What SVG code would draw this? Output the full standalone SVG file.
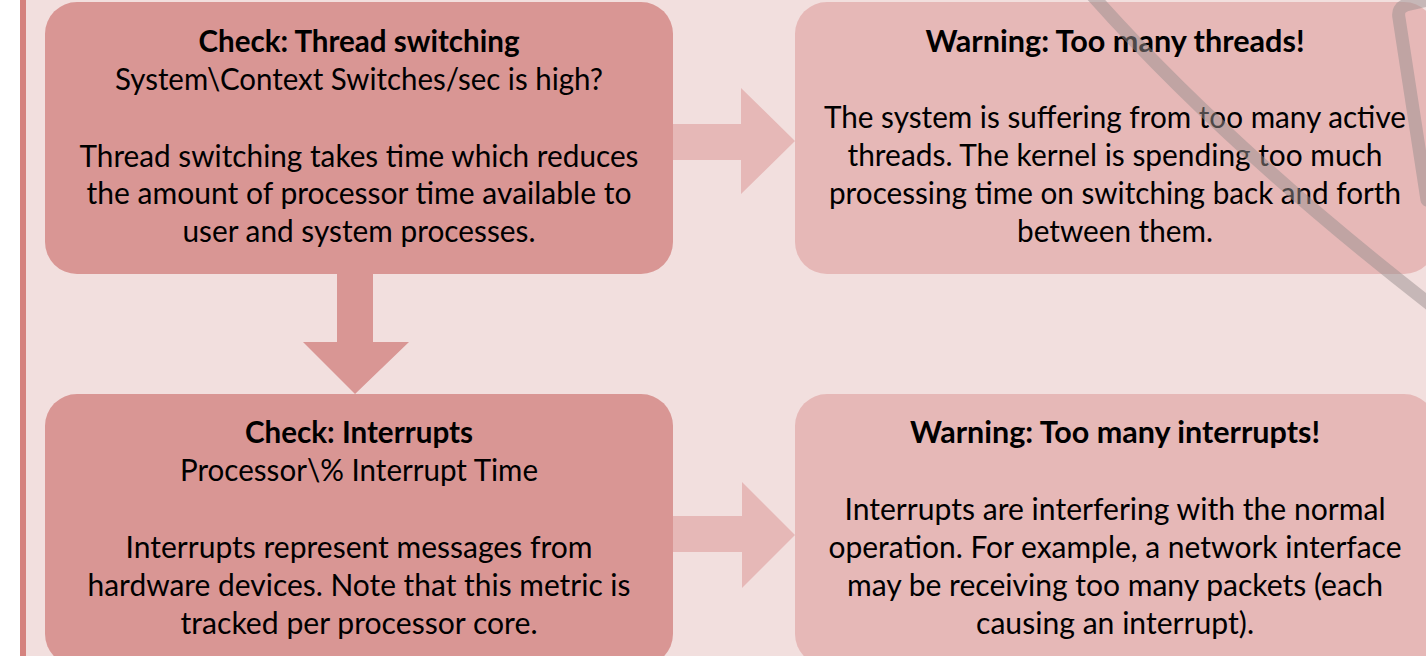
<svg xmlns="http://www.w3.org/2000/svg" width="1426" height="656" viewBox="0 0 1426 656">
<style>
.bg{fill:#f2dfde}
.dark{fill:#d99694}
.light{fill:#e6b8b7}
text{font-family:Lato,"Liberation Sans",sans-serif;font-size:31px;fill:#000;text-anchor:middle}
.t{font-weight:bold}
.deco{fill:none;stroke:#9a9090;stroke-opacity:0.5;stroke-width:13;stroke-linecap:round;stroke-linejoin:round}
</style>
<rect x="0" y="0" width="1426" height="656" fill="#ffffff"/>
<rect x="26" y="0" width="1400" height="656" class="bg"/>
<rect x="20" y="0" width="6" height="656" fill="#d5827e"/>

<g id="connectors">
<polygon class="light" points="673,124 741,124 741,88 795,141 741,194 741,160 673,160"/>
<polygon class="dark" points="337,272 373,272 373,342 409,342 355,394 303,342 337,342"/>
<polygon class="light" points="673,516 742,516 742,482 795,535 742,588 742,552 673,552"/>
</g>

<g id="check-thread-switching">
<rect x="45" y="2" width="628" height="272" rx="32" ry="32" class="dark"/>
<text x="359" y="52" class="t" textLength="321" lengthAdjust="spacingAndGlyphs">Check: Thread switching</text>
<text x="359" y="90" textLength="488" lengthAdjust="spacingAndGlyphs">System\Context Switches/sec is high?</text>
<text x="359" y="167" textLength="559" lengthAdjust="spacingAndGlyphs">Thread switching takes time which reduces</text>
<text x="359" y="204" textLength="545" lengthAdjust="spacingAndGlyphs">the amount of processor time available to</text>
<text x="359" y="242" textLength="353" lengthAdjust="spacingAndGlyphs">user and system processes.</text>
</g>

<g id="warning-threads">
<rect x="795" y="2" width="641" height="272" rx="32" ry="32" class="light"/>
<text x="1115" y="52" class="t" textLength="379" lengthAdjust="spacingAndGlyphs">Warning: Too many threads!</text>
<text x="1115" y="128" textLength="582" lengthAdjust="spacingAndGlyphs">The system is suffering from too many active</text>
<text x="1115" y="166" textLength="535" lengthAdjust="spacingAndGlyphs">threads. The kernel is spending too much</text>
<text x="1115" y="204" textLength="572" lengthAdjust="spacingAndGlyphs">processing time on switching back and forth</text>
<text x="1115" y="242" textLength="196" lengthAdjust="spacingAndGlyphs">between them.</text>
</g>

<g id="check-interrupts">
<rect x="45" y="394" width="628" height="272" rx="32" ry="32" class="dark"/>
<text x="359" y="443" class="t" textLength="228" lengthAdjust="spacingAndGlyphs">Check: Interrupts</text>
<text x="359" y="481" textLength="358" lengthAdjust="spacingAndGlyphs">Processor\% Interrupt Time</text>
<text x="359" y="558" textLength="467" lengthAdjust="spacingAndGlyphs">Interrupts represent messages from</text>
<text x="359" y="596" textLength="543" lengthAdjust="spacingAndGlyphs">hardware devices. Note that this metric is</text>
<text x="359" y="634" textLength="357" lengthAdjust="spacingAndGlyphs">tracked per processor core.</text>
</g>

<g id="warning-interrupts">
<rect x="795" y="394" width="641" height="272" rx="32" ry="32" class="light"/>
<text x="1115" y="443" class="t" textLength="410" lengthAdjust="spacingAndGlyphs">Warning: Too many interrupts!</text>
<text x="1115" y="520" textLength="541" lengthAdjust="spacingAndGlyphs">Interrupts are interfering with the normal</text>
<text x="1115" y="558" textLength="573" lengthAdjust="spacingAndGlyphs">operation. For example, a network interface</text>
<text x="1115" y="596" textLength="536" lengthAdjust="spacingAndGlyphs">may be receiving too many packets (each</text>
<text x="1115" y="634" textLength="278" lengthAdjust="spacingAndGlyphs">causing an interrupt).</text>
</g>

<g id="decoration">
<path class="deco" d="M1092,-5 Q1230,150 1440,312"/>
<path class="deco" d="M1440,-3 L1406,5 Q1397,8 1399,18 L1427,200"/>
</g>
</svg>
